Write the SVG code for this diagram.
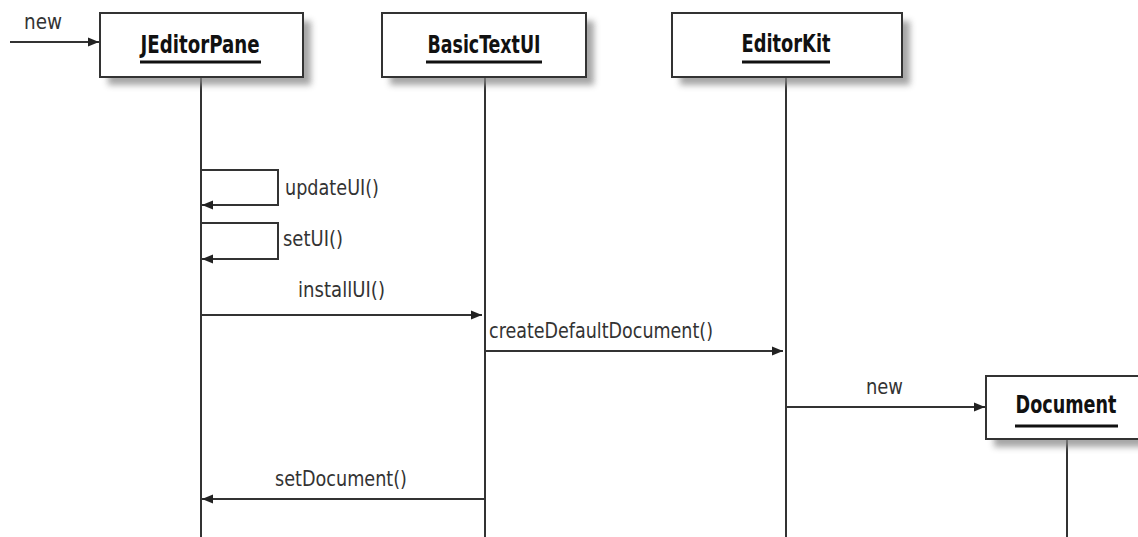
<svg xmlns="http://www.w3.org/2000/svg" width="1138" height="537" viewBox="0 0 1138 537">
<style>
.box{fill:#fff;stroke:#333;stroke-width:2}
.shadow{fill:#888;opacity:0.75}
.title{font-family:"Liberation Sans Narrow","DejaVu Sans Condensed","Liberation Sans",sans-serif;font-weight:bold;font-size:24px;fill:#111;text-anchor:middle}
.ul{stroke:#111;stroke-width:3}
.life{stroke:#333;stroke-width:2;fill:none}
.msg{stroke:#333;stroke-width:2;fill:none}
.lbl{font-family:"Liberation Sans Narrow","DejaVu Sans Condensed","Liberation Sans",sans-serif;font-size:21px;fill:#333}
</style>
<defs>
<filter id="blur" x="-20%" y="-20%" width="140%" height="160%"><feGaussianBlur stdDeviation="3"/></filter>
<marker id="ah" markerUnits="userSpaceOnUse" markerWidth="12" markerHeight="10" refX="11" refY="5" orient="auto"><path d="M0,0.5 L11,5 L0,9.5 z" fill="#222"/></marker>
</defs>
<rect width="1138" height="537" fill="#fff"/>

<g id="lifelines">
<line class="life" x1="201" y1="77" x2="201" y2="537"/>
<line class="life" x1="485" y1="77" x2="485" y2="537"/>
<line class="life" x1="786" y1="77" x2="786" y2="537"/>
<line class="life" x1="1067" y1="439" x2="1067" y2="537"/>
</g>

<g id="JEditorPane">
<rect class="shadow" x="108" y="21" width="203" height="64" filter="url(#blur)"/>
<rect class="box" x="100" y="13" width="203" height="64"/>
<text class="title" x="200" y="53" textLength="119" lengthAdjust="spacingAndGlyphs">JEditorPane</text>
<line class="ul" x1="140" y1="62" x2="261" y2="62"/>
</g>

<g id="BasicTextUI">
<rect class="shadow" x="390" y="21" width="204" height="64" filter="url(#blur)"/>
<rect class="box" x="382" y="13" width="204" height="64"/>
<text class="title" x="484" y="53" textLength="113" lengthAdjust="spacingAndGlyphs">BasicTextUI</text>
<line class="ul" x1="426" y1="62" x2="542" y2="62"/>
</g>

<g id="EditorKit">
<rect class="shadow" x="680" y="21" width="230" height="64" filter="url(#blur)"/>
<rect class="box" x="672" y="13" width="230" height="64"/>
<text class="title" x="786" y="52" textLength="89" lengthAdjust="spacingAndGlyphs">EditorKit</text>
<line class="ul" x1="742" y1="62" x2="830" y2="62"/>
</g>

<g id="Document">
<rect class="shadow" x="994" y="384" width="160" height="63" filter="url(#blur)"/>
<rect class="box" x="986" y="376" width="160" height="63"/>
<text class="title" x="1066" y="413" textLength="101" lengthAdjust="spacingAndGlyphs">Document</text>
<line class="ul" x1="1015" y1="426" x2="1118" y2="426"/>
</g>

<g id="connectors">
<line class="msg" x1="10" y1="42" x2="99" y2="42" marker-end="url(#ah)"/>
<polyline class="msg" points="201,170 278,170 278,205 202,205" marker-end="url(#ah)"/>
<polyline class="msg" points="201,223 278,223 278,259 202,259" marker-end="url(#ah)"/>
<line class="msg" x1="201" y1="315" x2="482" y2="315" marker-end="url(#ah)"/>
<line class="msg" x1="485" y1="351" x2="783" y2="351" marker-end="url(#ah)"/>
<line class="msg" x1="786" y1="407" x2="985" y2="407" marker-end="url(#ah)"/>
<line class="msg" x1="485" y1="499" x2="202" y2="499" marker-end="url(#ah)"/>
</g>

<g id="labels">
<text class="lbl" x="24" y="29" textLength="38" lengthAdjust="spacingAndGlyphs">new</text>
<text class="lbl" x="285" y="195" textLength="94" lengthAdjust="spacingAndGlyphs">updateUI()</text>
<text class="lbl" x="283" y="246" textLength="60" lengthAdjust="spacingAndGlyphs">setUI()</text>
<text class="lbl" x="298" y="297" textLength="87" lengthAdjust="spacingAndGlyphs">installUI()</text>
<text class="lbl" x="489" y="338" textLength="224" lengthAdjust="spacingAndGlyphs">createDefaultDocument()</text>
<text class="lbl" x="866" y="394" textLength="37" lengthAdjust="spacingAndGlyphs">new</text>
<text class="lbl" x="275" y="486" textLength="132" lengthAdjust="spacingAndGlyphs">setDocument()</text>
</g>
</svg>
